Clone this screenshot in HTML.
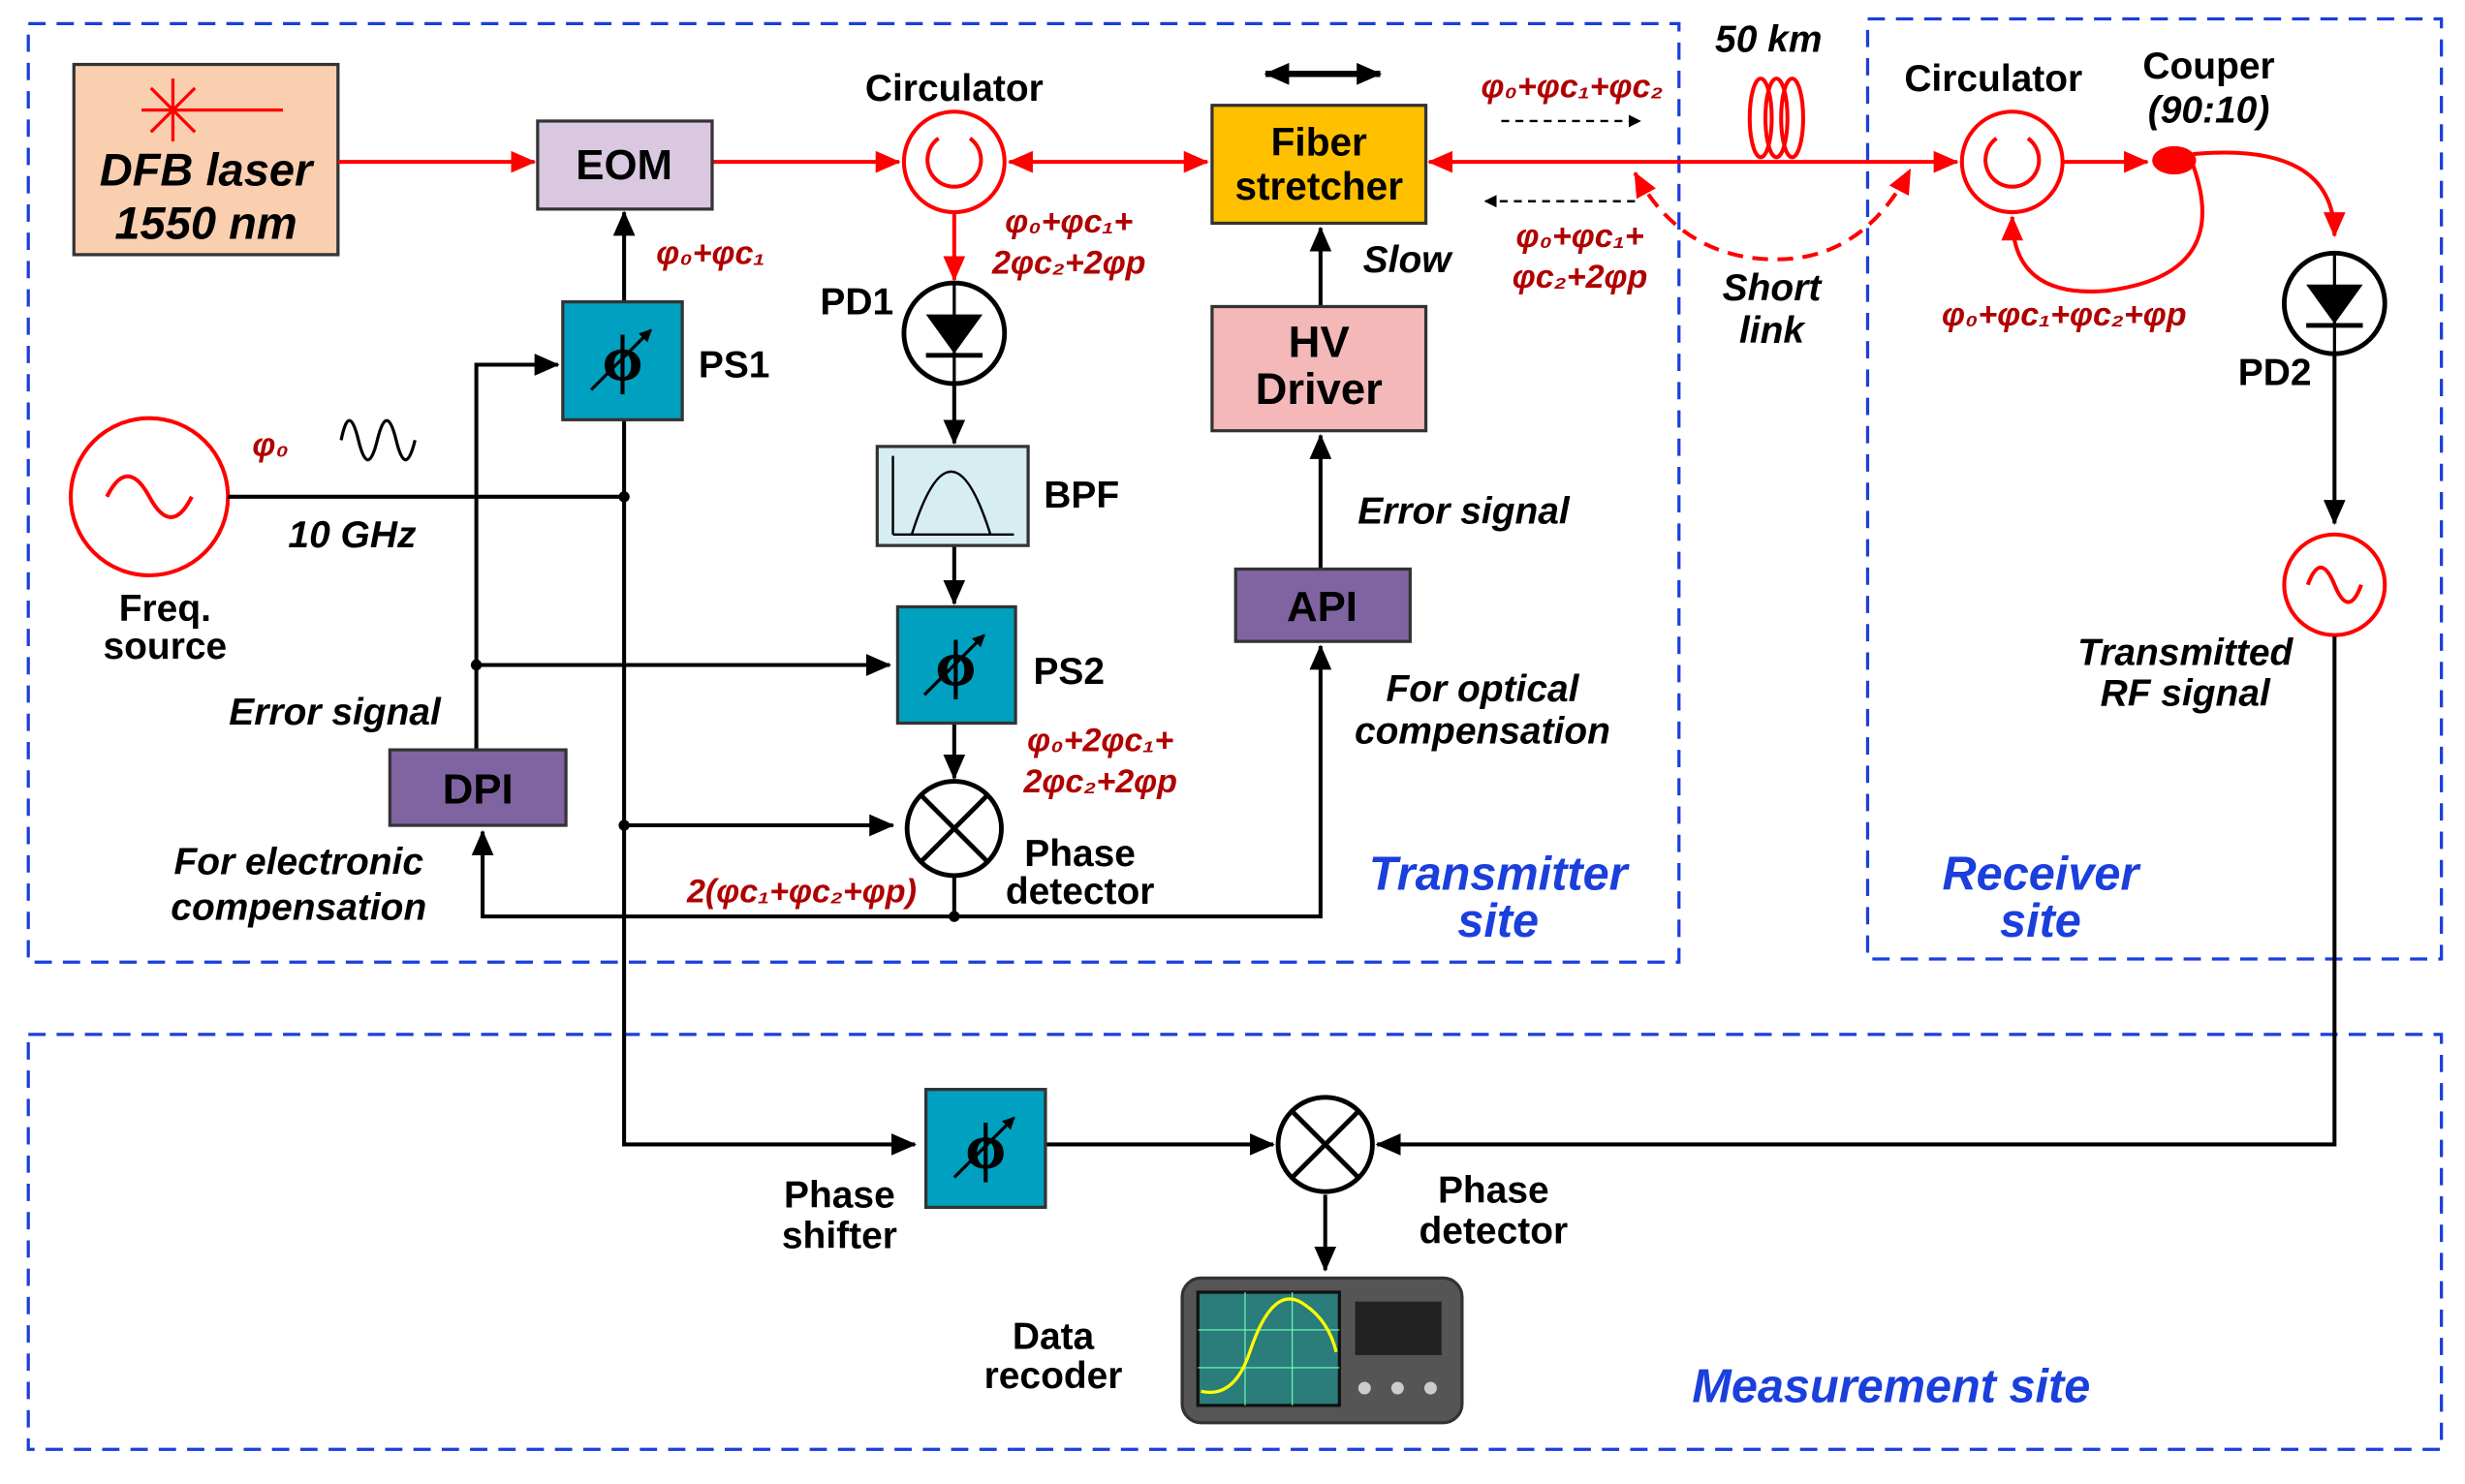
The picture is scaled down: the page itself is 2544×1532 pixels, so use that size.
<!DOCTYPE html>
<html><head><meta charset="utf-8"><style>
html,body{margin:0;padding:0;background:#fff}
svg{display:block}
text{font-family:"Liberation Sans",sans-serif;font-weight:bold;fill:#000}
.it{font-style:italic}
.g{fill:#b00000;font-style:italic;font-size:21px}
.b{fill:#1a3fdc;font-style:italic;font-size:30px}
</style></head><body>
<svg width="2544" height="1532" viewBox="0 0 1568 944" preserveAspectRatio="none" xmlns="http://www.w3.org/2000/svg">
<defs>
<marker id="ak" markerWidth="8" markerHeight="8" refX="7" refY="4" orient="auto" markerUnits="userSpaceOnUse"><path d="M0,0 L8,4 L0,8 z" fill="#000"/></marker>
<marker id="akb" markerWidth="16" markerHeight="14" refX="15" refY="7" orient="auto-start-reverse" markerUnits="userSpaceOnUse"><path d="M0,0 L16,7 L0,14 z" fill="#000"/></marker>
<marker id="ar" markerWidth="16" markerHeight="14" refX="15" refY="7" orient="auto-start-reverse" markerUnits="userSpaceOnUse"><path d="M0,0 L16,7 L0,14 z" fill="#f00"/></marker>
<g id="ps"><text x="38" y="50" text-anchor="middle" style="font-family:'Liberation Serif',serif;font-size:42px">ϕ</text><line x1="18" y1="56" x2="56" y2="18" stroke="#000" stroke-width="2" marker-end="url(#ak)"/></g>
</defs>
<g fill="none" stroke="#1a3fdc" stroke-width="2" stroke-dasharray="11 7">
<rect x="18" y="15" width="1050" height="597"/>
<rect x="1188" y="12" width="365" height="598"/>
<rect x="18" y="658" width="1535" height="264"/>
</g>
<!-- DFB -->
<rect x="47" y="41" width="168" height="121" fill="#f9cfb0" stroke="#333" stroke-width="2"/>
<g stroke="#f00" stroke-width="2"><line x1="110" y1="50" x2="110" y2="90"/><line x1="90" y1="70" x2="130" y2="70"/><line x1="96" y1="56" x2="124" y2="84"/><line x1="124" y1="56" x2="96" y2="84"/><line x1="130" y1="70" x2="180" y2="70"/></g>
<text x="131" y="118" text-anchor="middle" class="it" font-size="29">DFB laser</text>
<text x="131" y="152" text-anchor="middle" class="it" font-size="29">1550 nm</text>
<!-- red optical -->
<g stroke="#f00" stroke-width="2.5" fill="none">
<line x1="215" y1="103" x2="340" y2="103" marker-end="url(#ar)"/>
<line x1="453" y1="103" x2="572" y2="103" marker-end="url(#ar)"/>
<line x1="642" y1="103" x2="768" y2="103" marker-start="url(#ar)" marker-end="url(#ar)"/>
<line x1="909" y1="103" x2="1245" y2="103" marker-start="url(#ar)" marker-end="url(#ar)"/>
<line x1="607" y1="135" x2="607" y2="178" marker-end="url(#ar)"/>
<line x1="1313" y1="103" x2="1366" y2="103" marker-end="url(#ar)"/>
<path d="M1395,98 Q1485,90 1485,150" marker-end="url(#ar)"/>
<path d="M1395,105 Q1420,175 1340,185 Q1280,190 1280,138" marker-end="url(#ar)"/>
<path d="M1040,110 Q1070,165 1130,165 Q1185,165 1215,108" stroke-dasharray="10 6" marker-start="url(#ar)" marker-end="url(#ar)"/>
<ellipse cx="1120" cy="75" rx="7" ry="25"/><ellipse cx="1130" cy="75" rx="7" ry="25"/><ellipse cx="1140" cy="75" rx="7" ry="25"/>
</g>
<ellipse cx="1383" cy="102" rx="14" ry="9" fill="#f00"/>
<!-- EOM -->
<rect x="342" y="77" width="111" height="56" fill="#d9c8e0" stroke="#333" stroke-width="2"/>
<text x="397" y="114" text-anchor="middle" font-size="27">EOM</text>
<!-- circulators -->
<g fill="none" stroke="#f00" stroke-width="2.5">
<circle cx="607" cy="103" r="32"/><path d="M597,88 A17,17 0 1 0 617,88"/>
<circle cx="1280" cy="103" r="32"/><path d="M1270,88 A17,17 0 1 0 1290,88"/>
<circle cx="95" cy="316" r="50"/><path d="M68,316 Q81,290 95,316 Q109,342 122,316"/>
<circle cx="1485" cy="372" r="32"/><path d="M1468,372 Q1476,350 1485,372 Q1494,394 1502,372"/>
</g>
<text x="607" y="64" text-anchor="middle" font-size="24">Circulator</text>
<text x="1268" y="58" text-anchor="middle" font-size="24">Circulator</text>
<text x="1405" y="50" text-anchor="middle" font-size="24">Couper</text>
<text x="1405" y="78" text-anchor="middle" class="it" font-size="24">(90:10)</text>
<!-- Fiber stretcher -->
<rect x="771" y="67" width="136" height="75" fill="#ffc000" stroke="#333" stroke-width="2"/>
<text x="839" y="99" text-anchor="middle" font-size="25">Fiber</text>
<text x="839" y="127" text-anchor="middle" font-size="25">stretcher</text>
<line x1="805" y1="47" x2="878" y2="47" stroke="#000" stroke-width="4" marker-start="url(#akb)" marker-end="url(#akb)"/>
<text x="1125" y="33" text-anchor="middle" class="it" font-size="24">50 km</text>
<g stroke="#000" stroke-width="1.5" stroke-dasharray="5 4">
<line x1="955" y1="77" x2="1043" y2="77" marker-end="url(#ak)"/>
<line x1="1040" y1="128" x2="945" y2="128" marker-end="url(#ak)"/>
</g>
<text x="1000" y="62" text-anchor="middle" class="g">φ₀+φc₁+φc₂</text>
<text x="1005" y="157" text-anchor="middle" class="g">φ₀+φc₁+</text>
<text x="1005" y="183" text-anchor="middle" class="g">φc₂+2φp</text>
<text x="1127" y="191" text-anchor="middle" class="it" font-size="24">Short</text>
<text x="1127" y="218" text-anchor="middle" class="it" font-size="24">link</text>
<text x="1313" y="207" text-anchor="middle" class="g">φ₀+φc₁+φc₂+φp</text>
<text x="680" y="148" text-anchor="middle" class="g">φ₀+φc₁+</text>
<text x="680" y="174" text-anchor="middle" class="g">2φc₂+2φp</text>
<text x="452" y="168" text-anchor="middle" class="g">φ₀+φc₁</text>
<text x="172" y="290" text-anchor="middle" class="g">φ₀</text>
<text x="700" y="478" text-anchor="middle" class="g">φ₀+2φc₁+</text>
<text x="700" y="504" text-anchor="middle" class="g">2φc₂+2φp</text>
<text x="510" y="574" text-anchor="middle" class="g">2(φc₁+φc₂+φp)</text>
<!-- photodiodes -->
<g>
<circle cx="607" cy="212" r="32" fill="#fff" stroke="#000" stroke-width="3"/>
<path d="M589,200 L625,200 L607,225 z" fill="#000"/><line x1="589" y1="226" x2="625" y2="226" stroke="#000" stroke-width="3"/><line x1="607" y1="180" x2="607" y2="244" stroke="#000" stroke-width="2"/>
<circle cx="1485" cy="193" r="32" fill="#fff" stroke="#000" stroke-width="3"/>
<path d="M1467,181 L1503,181 L1485,206 z" fill="#000"/><line x1="1467" y1="207" x2="1503" y2="207" stroke="#000" stroke-width="3"/><line x1="1485" y1="161" x2="1485" y2="225" stroke="#000" stroke-width="2"/>
</g>
<text x="545" y="200" text-anchor="middle" font-size="24">PD1</text>
<text x="1447" y="245" text-anchor="middle" font-size="24">PD2</text>
<!-- black connectors -->
<g stroke="#000" stroke-width="2.5" fill="none">
<line x1="607" y1="244" x2="607" y2="282" marker-end="url(#akb)"/>
<line x1="607" y1="347" x2="607" y2="384" marker-end="url(#akb)"/>
<line x1="607" y1="460" x2="607" y2="495" marker-end="url(#akb)"/>
<line x1="397" y1="192" x2="397" y2="135" marker-end="url(#akb)"/>
<line x1="145" y1="316" x2="397" y2="316"/>
<polyline points="397,267 397,728 582,728" marker-end="url(#akb)"/>
<line x1="397" y1="525" x2="568" y2="525" marker-end="url(#akb)"/>
<polyline points="303,477 303,232 355,232" marker-end="url(#akb)"/>
<line x1="303" y1="423" x2="566" y2="423" marker-end="url(#akb)"/>
<line x1="607" y1="557" x2="607" y2="583"/>
<polyline points="307,529 307,583 840,583 840,411" marker-start="url(#akb)" marker-end="url(#akb)"/>
<line x1="840" y1="362" x2="840" y2="277" marker-end="url(#akb)"/>
<line x1="840" y1="195" x2="840" y2="145" marker-end="url(#akb)"/>
<line x1="1485" y1="225" x2="1485" y2="333" marker-end="url(#akb)"/>
<polyline points="1485,405 1485,728 876,728" marker-end="url(#akb)"/>
<line x1="665" y1="728" x2="810" y2="728" marker-end="url(#akb)"/>
<line x1="843" y1="760" x2="843" y2="808" marker-end="url(#akb)"/>
<path d="M217,280 Q222,255 228,280 T240,280 T252,280 T264,280" stroke-width="2"/>
</g>
<g fill="#000"><circle cx="397" cy="316" r="3.5"/><circle cx="397" cy="525" r="3.5"/><circle cx="303" cy="423" r="3.5"/><circle cx="607" cy="583" r="3.5"/></g>
<text x="224" y="348" text-anchor="middle" class="it" font-size="24">10 GHz</text>
<text x="105" y="395" text-anchor="middle" font-size="24" fill="#333">Freq.</text>
<text x="105" y="419" text-anchor="middle" font-size="24" fill="#333">source</text>
<!-- BPF -->
<rect x="558" y="284" width="96" height="63" fill="#d6eef2" stroke="#333" stroke-width="2"/>
<g stroke="#000" stroke-width="1.5" fill="none"><line x1="568" y1="340" x2="645" y2="340"/><line x1="568" y1="340" x2="568" y2="290"/><path d="M580,340 Q605,260 630,340"/></g>
<text x="688" y="323" text-anchor="middle" font-size="24">BPF</text>
<!-- PS -->
<rect x="358" y="192" width="76" height="75" fill="#00a0c0" stroke="#333" stroke-width="2"/><use href="#ps" x="358" y="192"/>
<rect x="571" y="386" width="75" height="74" fill="#00a0c0" stroke="#333" stroke-width="2"/><use href="#ps" x="570" y="386"/>
<rect x="589" y="693" width="76" height="75" fill="#00a0c0" stroke="#333" stroke-width="2"/><use href="#ps" x="589" y="693"/>
<text x="467" y="240" text-anchor="middle" font-size="24">PS1</text>
<text x="680" y="435" text-anchor="middle" font-size="24">PS2</text>
<text x="534" y="768" text-anchor="middle" font-size="24">Phase</text>
<text x="534" y="794" text-anchor="middle" font-size="24">shifter</text>
<!-- mixers -->
<g stroke="#000" stroke-width="3" fill="#fff">
<circle cx="607" cy="527" r="30"/><line x1="586" y1="506" x2="628" y2="548"/><line x1="628" y1="506" x2="586" y2="548"/>
<circle cx="843" cy="728" r="30"/><line x1="822" y1="707" x2="864" y2="749"/><line x1="864" y1="707" x2="822" y2="749"/>
</g>
<text x="687" y="551" text-anchor="middle" font-size="24">Phase</text>
<text x="687" y="575" text-anchor="middle" font-size="24">detector</text>
<text x="950" y="765" text-anchor="middle" font-size="24">Phase</text>
<text x="950" y="791" text-anchor="middle" font-size="24">detector</text>
<!-- DPI API HV -->
<rect x="248" y="477" width="112" height="48" fill="#8064a2" stroke="#333" stroke-width="2"/>
<text x="304" y="511" text-anchor="middle" font-size="27">DPI</text>
<rect x="786" y="362" width="111" height="46" fill="#8064a2" stroke="#333" stroke-width="2"/>
<text x="841" y="395" text-anchor="middle" font-size="27">API</text>
<rect x="771" y="195" width="136" height="79" fill="#f4b8b8" stroke="#333" stroke-width="2"/>
<text x="839" y="227" text-anchor="middle" font-size="28">HV</text>
<text x="839" y="257" text-anchor="middle" font-size="28">Driver</text>
<text x="895" y="173" text-anchor="middle" class="it" font-size="24">Slow</text>
<text x="931" y="333" text-anchor="middle" class="it" font-size="24">Error signal</text>
<text x="943" y="446" text-anchor="middle" class="it" font-size="24">For optical</text>
<text x="943" y="473" text-anchor="middle" class="it" font-size="24">compensation</text>
<text x="213" y="461" text-anchor="middle" class="it" font-size="24">Error signal</text>
<text x="190" y="556" text-anchor="middle" class="it" font-size="24">For electronic</text>
<text x="190" y="585" text-anchor="middle" class="it" font-size="24">compensation</text>
<text x="1390" y="423" text-anchor="middle" class="it" font-size="24">Transmitted</text>
<text x="1390" y="449" text-anchor="middle" class="it" font-size="24">RF signal</text>
<text x="953" y="566" text-anchor="middle" class="b">Transmitter</text>
<text x="953" y="596" text-anchor="middle" class="b">site</text>
<text x="1298" y="566" text-anchor="middle" class="b">Receiver</text>
<text x="1298" y="596" text-anchor="middle" class="b">site</text>
<text x="1203" y="892" text-anchor="middle" class="b">Measurement site</text>
<!-- oscilloscope -->
<rect x="752" y="813" width="178" height="92" rx="12" fill="#555" stroke="#333" stroke-width="2"/>
<rect x="762" y="822" width="90" height="72" fill="#2a7d7a" stroke="#111" stroke-width="2"/>
<g stroke="#7fb" stroke-width="0.7"><line x1="792" y1="822" x2="792" y2="894"/><line x1="822" y1="822" x2="822" y2="894"/><line x1="762" y1="846" x2="852" y2="846"/><line x1="762" y1="870" x2="852" y2="870"/></g>
<path d="M764,885 Q785,890 795,860 Q810,815 830,830 Q845,840 850,860" stroke="#ff0" stroke-width="2" fill="none"/>
<rect x="862" y="828" width="55" height="34" fill="#222"/>
<g fill="#ccc"><circle cx="868" cy="883" r="4"/><circle cx="889" cy="883" r="4"/><circle cx="910" cy="883" r="4"/></g>
<text x="670" y="858" text-anchor="middle" font-size="24">Data</text>
<text x="670" y="883" text-anchor="middle" font-size="24">recoder</text>
</svg>
</body></html>
